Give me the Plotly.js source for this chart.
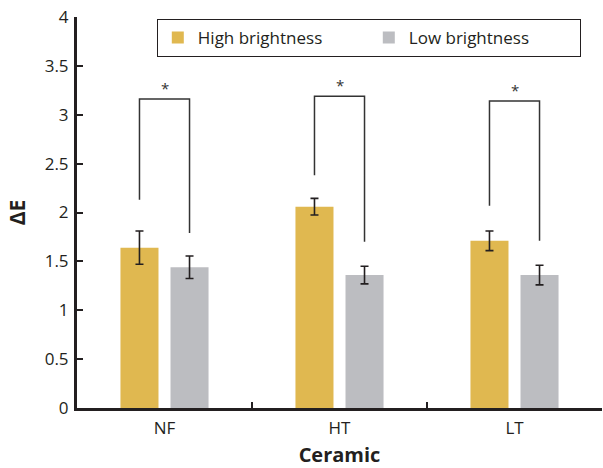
<!DOCTYPE html>
<html>
<head>
<meta charset="utf-8">
<script src="https://cdn.plot.ly/plotly-3.0.1.min.js"></script>
<style>html,body{margin:0;padding:0;background:#fff;}#chart{width:603px;height:468px;}</style>
</head>
<body>
<div id="chart"></div>
<script>
const categories = ["NF", "HT", "LT"];
const highValues = [1.64, 2.06, 1.71];
const highErrors = [0.17, 0.085, 0.10];
const lowValues = [1.44, 1.36, 1.36];
const lowErrors = [0.115, 0.09, 0.10];
const sigTop = [3.16, 3.19, 3.14];
const sigLeftEnd = [2.13, 2.38, 2.07];
const sigRightEnd = [1.79, 1.70, 1.71];
const sigLabels = ["*", "*", "*"];
const yTicks = [0, 0.5, 1, 1.5, 2, 2.5, 3, 3.5, 4];
const yTickText = ["0", "0.5", "1", "1.5", "2", "2.5", "3", "3.5", "4"];

const FONT = "Open Sans, Noto Sans, sans-serif";
const INK = "#231F20";
const barOffset = 0.143;

const traces = [
  {type: "bar", name: "High brightness", x: categories, y: highValues,
   marker: {color: "#E0B850"},
   error_y: {type: "data", array: highErrors, visible: true, color: INK, thickness: 1.6, width: 4}},
  {type: "bar", name: "Low brightness", x: categories, y: lowValues,
   marker: {color: "#BCBDC1"},
   error_y: {type: "data", array: lowErrors, visible: true, color: INK, thickness: 1.6, width: 4}}
];

const shapes = [];
const annotations = [];
categories.forEach((c, i) => {
  const xl = i - barOffset, xr = i + barOffset;
  shapes.push({type: "path", xref: "x", yref: "y",
    path: `M ${xl} ${sigLeftEnd[i]} L ${xl} ${sigTop[i]} L ${xr} ${sigTop[i]} L ${xr} ${sigRightEnd[i]}`,
    line: {color: "#333333", width: 1.5}});
  annotations.push({xref: "x", yref: "y", x: i, y: sigTop[i], text: sigLabels[i],
    showarrow: false, yanchor: "bottom", yshift: -1, font: {family: FONT, size: 15, color: "#333"}});
});

const layout = {
  width: 603, height: 468,
  margin: {l: 77, r: 1, t: 17, b: 60},
  paper_bgcolor: "#fff", plot_bgcolor: "#fff",
  barmode: "group", bargap: 0.428, bargroupgap: 0.24,
  showlegend: true,
  legend: {orientation: "h", x: 0.152, y: 0.995, xanchor: "left", yanchor: "top",
    bordercolor: INK, borderwidth: 1, bgcolor: "#fff",
    font: {family: FONT, size: 17, color: INK}, entrywidth: 166, entrywidthmode: "pixels"},
  font: {family: FONT, color: INK},
  xaxis: {type: "category", range: [-0.5, 2.5], showline: true, linewidth: 3, linecolor: INK,
    ticks: "inside", tickson: "boundaries", ticklen: 6, tickwidth: 2, tickcolor: INK, ticklabelstandoff: 3,
    tickfont: {family: FONT, size: 17, color: INK}, showgrid: false, zeroline: false,
    title: {text: "<b>Ceramic</b>", font: {family: FONT, size: 20, color: INK}, standoff: 18}},
  yaxis: {range: [0, 4], tickvals: yTicks, ticktext: yTickText, showline: true, linewidth: 3, linecolor: INK,
    ticks: "inside", ticklen: 6, tickwidth: 2, tickcolor: INK, ticklabelstandoff: 2,
    tickfont: {family: FONT, size: 17, color: INK}, showgrid: false, zeroline: false,
    title: {text: "<b>ΔE</b>", font: {family: FONT, size: 21, color: INK}, standoff: 14}},
  shapes: shapes,
  annotations: annotations
};

Plotly.newPlot("chart", traces, layout, {displayModeBar: false, staticPlot: true});
</script>
</body>
</html>
